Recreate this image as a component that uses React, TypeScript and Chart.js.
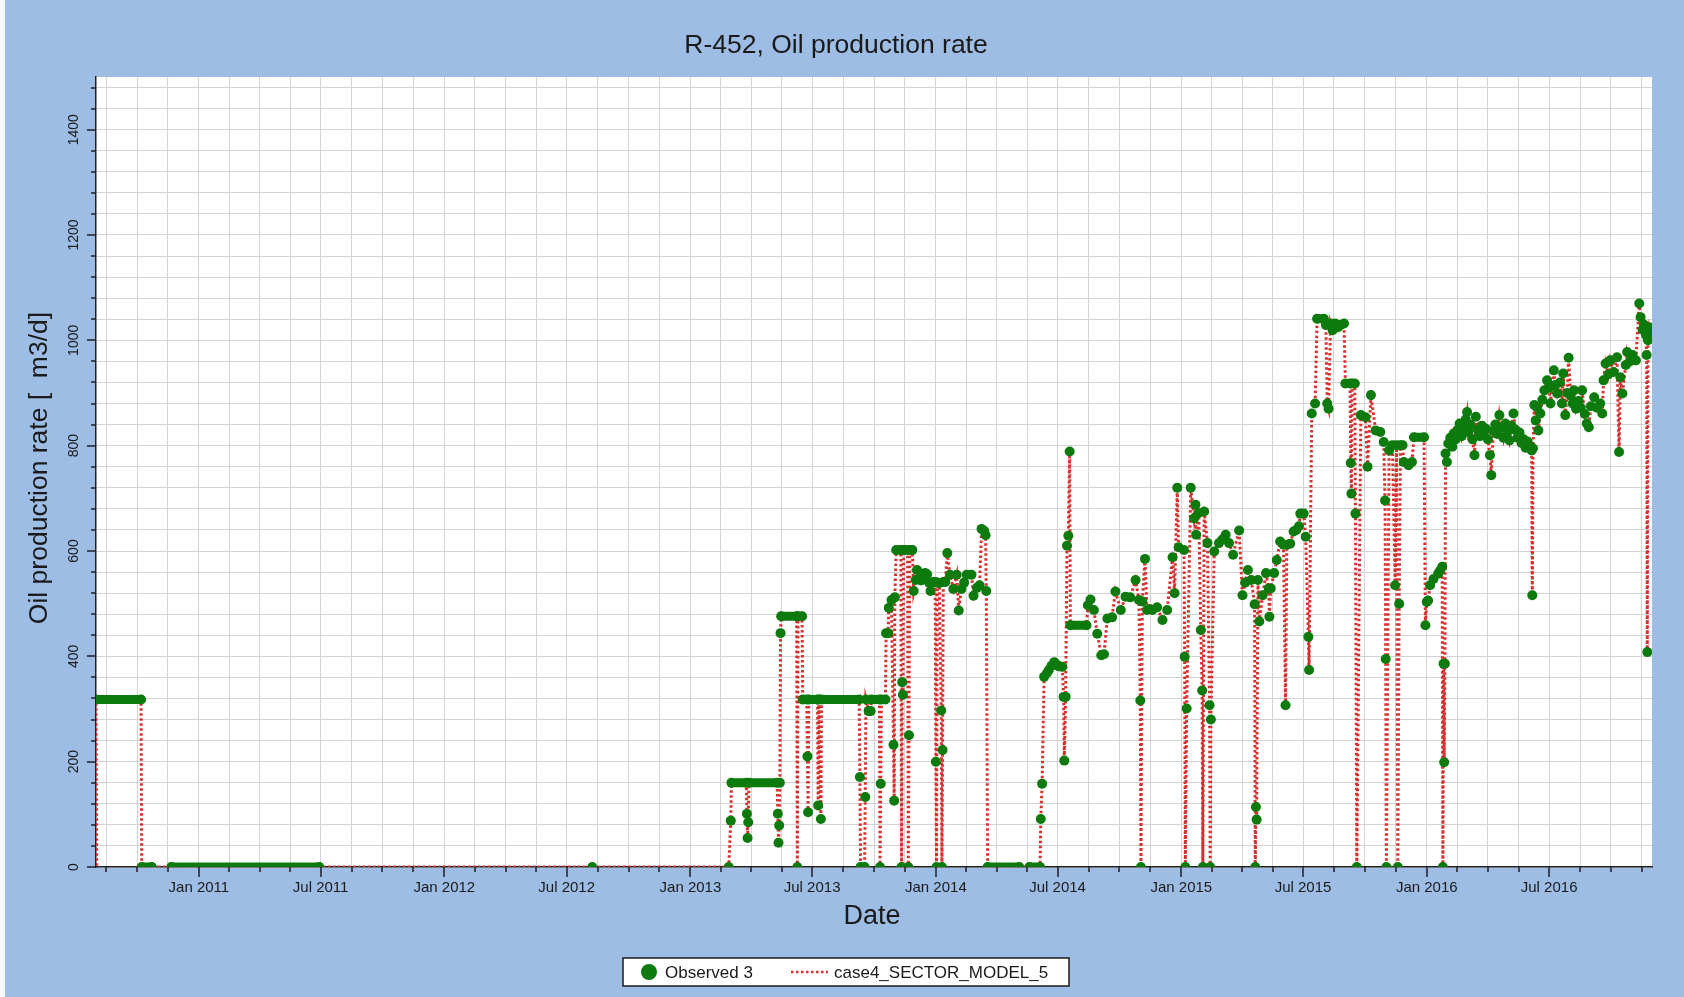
import React, { useEffect, useRef } from 'react';
import { Chart, registerables } from 'chart.js';

Chart.register(...registerables);

type Obs = [string, number | null];

const CHART_TITLE = 'R-452, Oil production rate';
const Y_AXIS_TITLE = 'Oil production rate [  m3/d]';
const X_AXIS_TITLE = 'Date';
const OBSERVED_LABEL = 'Observed 3';
const SIMULATED_LABEL = 'case4_SECTOR_MODEL_5';

const X_START = '2010-08-01';
const X_END = '2016-12-01';
const Y_MAX = 1500;
const Y_GRID_STEP = 40;
const Y_LABEL_STEP = 200;
const HALF_YEAR_NAMES = ['Jan', 'Jul'];

// simulation starts from zero just before the first observation
const simLead: Obs[] = [
  ['2010-07-20', 0],
  ['2010-08-02', 0],
];

const obs2010: Obs[] = [
  ['2010-08-01', 318], ['2010-10-07', 318],
  ['2010-10-08', 0], ['2010-10-23', 0],
  ['2010-11-10', null],
  ['2010-11-21', 0], ['2011-06-29', 0],
  ['2012-01-01', null],
  ['2012-08-08', 0],
  ['2012-12-01', null],
];

const obs2013: Obs[] = [
  ['2013-02-27', 0], ['2013-03-02', 88], ['2013-03-03', 160], ['2013-03-25', 160],
  ['2013-03-26', 101], ['2013-03-27', 55], ['2013-03-28', 85], ['2013-03-29', 160],
  ['2013-05-10', 160], ['2013-05-11', 101], ['2013-05-12', 46], ['2013-05-13', 79],
  ['2013-05-14', 160], ['2013-05-15', 444], ['2013-05-16', 476], ['2013-06-08', 476],
  ['2013-06-09', 0], ['2013-06-10', 476], ['2013-06-16', 476], ['2013-06-17', 318],
  ['2013-06-23', 318], ['2013-06-24', 210], ['2013-06-25', 104], ['2013-06-26', 318],
  ['2013-07-09', 318], ['2013-07-10', 117], ['2013-07-11', 318], ['2013-07-14', 91],
  ['2013-07-15', 318], ['2013-09-09', 318], ['2013-09-10', 171], ['2013-09-11', 0],
  ['2013-09-17', 0], ['2013-09-18', 133], ['2013-09-19', 318], ['2013-09-23', 296],
  ['2013-09-26', 296], ['2013-09-27', 318], ['2013-10-09', 318], ['2013-10-10', 0],
  ['2013-10-11', 158], ['2013-10-12', 318], ['2013-10-18', 318], ['2013-10-19', 444],
  ['2013-10-22', 444], ['2013-10-23', 492], ['2013-10-27', 507], ['2013-10-30', 232],
  ['2013-10-31', 126], ['2013-11-01', 512], ['2013-11-03', 602], ['2013-11-10', 602],
  ['2013-11-11', 0], ['2013-11-12', 351], ['2013-11-13', 327], ['2013-11-14', 602],
  ['2013-11-20', 602], ['2013-11-21', 0], ['2013-11-22', 250], ['2013-11-23', 602],
  ['2013-11-27', 602], ['2013-11-29', 524], ['2013-12-02', 545], ['2013-12-04', 564],
  ['2013-12-07', 548], ['2013-12-10', 544], ['2013-12-13', 553], ['2013-12-16', 558],
  ['2013-12-19', 556], ['2013-12-22', 540], ['2013-12-24', 524], ['2013-12-28', 541],
  ['2013-12-31', 541],
];

const obs2014: Obs[] = [
  ['2014-01-01', 200], ['2014-01-02', 0], ['2014-01-03', 540], ['2014-01-06', 539],
  ['2014-01-09', 297], ['2014-01-10', 0], ['2014-01-11', 222], ['2014-01-12', 541],
  ['2014-01-15', 541], ['2014-01-18', 596], ['2014-01-22', 555], ['2014-01-27', 528],
  ['2014-02-01', 555], ['2014-02-04', 487], ['2014-02-08', 528], ['2014-02-12', 540],
  ['2014-02-16', 555], ['2014-02-23', 555], ['2014-02-26', 515], ['2014-03-03', 530],
  ['2014-03-07', 535], ['2014-03-10', 642], ['2014-03-14', 638], ['2014-03-16', 630],
  ['2014-03-17', 524], ['2014-03-19', 0], ['2014-05-05', 0],
  ['2014-05-12', null],
  ['2014-05-20', 0], ['2014-06-05', 0], ['2014-06-06', 91], ['2014-06-08', 158],
  ['2014-06-11', 361], ['2014-06-15', 368], ['2014-06-18', 374], ['2014-06-22', 382],
  ['2014-06-26', 389], ['2014-06-30', 384], ['2014-07-03', 381], ['2014-07-08', 380],
  ['2014-07-10', 323], ['2014-07-11', 202], ['2014-07-13', 323], ['2014-07-15', 610],
  ['2014-07-17', 629], ['2014-07-19', 789], ['2014-07-20', 459], ['2014-08-13', 459],
  ['2014-08-15', 497], ['2014-08-19', 508], ['2014-08-24', 488], ['2014-08-29', 443],
  ['2014-09-04', 402], ['2014-09-08', 404], ['2014-09-13', 472], ['2014-09-20', 474],
  ['2014-09-25', 523], ['2014-10-03', 488], ['2014-10-10', 513], ['2014-10-17', 512],
  ['2014-10-25', 545], ['2014-10-30', 507], ['2014-11-01', 316], ['2014-11-02', 0],
  ['2014-11-04', 504], ['2014-11-08', 585], ['2014-11-11', 488], ['2014-11-15', 490],
  ['2014-11-19', 488], ['2014-11-26', 493], ['2014-12-04', 469], ['2014-12-11', 488],
  ['2014-12-19', 588], ['2014-12-22', 520], ['2014-12-26', 720], ['2014-12-28', 607],
];

const obs2015: Obs[] = [
  ['2015-01-05', 602], ['2015-01-06', 399], ['2015-01-07', 0], ['2015-01-09', 301],
  ['2015-01-15', 720], ['2015-01-20', 662], ['2015-01-22', 688], ['2015-01-23', 631],
  ['2015-01-27', 672], ['2015-01-30', 450], ['2015-02-01', 335], ['2015-02-02', 0],
  ['2015-02-04', 675], ['2015-02-09', 615], ['2015-02-12', 307], ['2015-02-13', 0],
  ['2015-02-14', 280], ['2015-02-19', 599], ['2015-02-26', 615], ['2015-03-03', 622],
  ['2015-03-08', 631], ['2015-03-13', 615], ['2015-03-19', 593], ['2015-03-28', 639],
  ['2015-04-02', 516], ['2015-04-06', 540], ['2015-04-10', 564], ['2015-04-15', 545],
  ['2015-04-20', 499], ['2015-04-21', 0], ['2015-04-22', 114], ['2015-04-23', 90],
  ['2015-04-25', 545], ['2015-04-27', 466], ['2015-05-02', 516], ['2015-05-07', 558],
  ['2015-05-11', 529], ['2015-05-12', 475], ['2015-05-14', 529], ['2015-05-19', 558],
  ['2015-05-23', 583], ['2015-05-28', 618], ['2015-06-02', 612], ['2015-06-05', 307],
  ['2015-06-07', 612], ['2015-06-12', 614], ['2015-06-17', 637], ['2015-06-21', 640],
  ['2015-06-25', 647], ['2015-06-27', 671], ['2015-07-02', 671], ['2015-07-05', 627],
  ['2015-07-09', 437], ['2015-07-10', 374], ['2015-07-14', 861], ['2015-07-19', 880],
  ['2015-07-22', 1041], ['2015-08-01', 1041], ['2015-08-04', 1029], ['2015-08-06', 880],
  ['2015-08-08', 870], ['2015-08-11', 1032], ['2015-08-14', 1019], ['2015-08-18', 1032],
  ['2015-08-22', 1025], ['2015-08-26', 1029], ['2015-08-31', 1032], ['2015-09-02', 918],
  ['2015-09-09', 918], ['2015-09-10', 767], ['2015-09-11', 709], ['2015-09-12', 918],
  ['2015-09-16', 918], ['2015-09-17', 671], ['2015-09-19', 0], ['2015-09-25', 858],
  ['2015-10-02', 854], ['2015-10-05', 760], ['2015-10-10', 896], ['2015-10-17', 829],
  ['2015-10-24', 826], ['2015-10-29', 807], ['2015-10-31', 696], ['2015-11-01', 395],
  ['2015-11-02', 0], ['2015-11-06', 791], ['2015-11-11', 801], ['2015-11-15', 535],
  ['2015-11-17', 801], ['2015-11-19', 0], ['2015-11-21', 500], ['2015-11-23', 801],
  ['2015-11-26', 801], ['2015-11-28', 769], ['2015-12-05', 763], ['2015-12-10', 769],
  ['2015-12-13', 816], ['2015-12-28', 816], ['2015-12-30', 459],
];

const obs2016: Obs[] = [
  ['2016-01-01', 503], ['2016-01-03', 506], ['2016-01-06', 535], ['2016-01-11', 547],
  ['2016-01-18', 557], ['2016-01-21', 563], ['2016-01-24', 570], ['2016-01-25', 0],
  ['2016-01-26', 386], ['2016-01-27', 199], ['2016-01-28', 386], ['2016-01-29', 785],
  ['2016-01-31', 769], ['2016-02-02', 804], ['2016-02-05', 815], ['2016-02-08', 798],
  ['2016-02-10', 823], ['2016-02-13', 812], ['2016-02-16', 830], ['2016-02-19', 842],
  ['2016-02-22', 818], ['2016-02-25', 835], ['2016-02-28', 850], ['2016-03-01', 864],
  ['2016-03-03', 826], ['2016-03-06', 840], ['2016-03-09', 812], ['2016-03-12', 782],
  ['2016-03-14', 855], ['2016-03-17', 830], ['2016-03-20', 818], ['2016-03-23', 838],
  ['2016-03-26', 820], ['2016-03-29', 832], ['2016-04-01', 812], ['2016-04-04', 782],
  ['2016-04-06', 744], ['2016-04-09', 828], ['2016-04-12', 840], ['2016-04-15', 822],
  ['2016-04-18', 858], ['2016-04-21', 835], ['2016-04-24', 815], ['2016-04-27', 842],
  ['2016-04-30', 826], ['2016-05-03', 810], ['2016-05-06', 838], ['2016-05-09', 861],
  ['2016-05-12', 830], ['2016-05-15', 815], ['2016-05-18', 825], ['2016-05-21', 805],
  ['2016-05-24', 812], ['2016-05-27', 796], ['2016-05-30', 808], ['2016-06-02', 800],
  ['2016-06-05', 791], ['2016-06-06', 516], ['2016-06-07', 795], ['2016-06-09', 877],
  ['2016-06-11', 848], ['2016-06-13', 873], ['2016-06-15', 829], ['2016-06-18', 861],
  ['2016-06-21', 887], ['2016-06-24', 905], ['2016-06-28', 924], ['2016-07-01', 910],
  ['2016-07-03', 880], ['2016-07-08', 943], ['2016-07-10', 915], ['2016-07-13', 899],
  ['2016-07-17', 920], ['2016-07-20', 880], ['2016-07-22', 937], ['2016-07-25', 858],
  ['2016-07-28', 900], ['2016-07-30', 967], ['2016-08-02', 895], ['2016-08-05', 880],
  ['2016-08-07', 905], ['2016-08-10', 870], ['2016-08-14', 885], ['2016-08-17', 872],
  ['2016-08-19', 905], ['2016-08-23', 860], ['2016-08-26', 842], ['2016-08-29', 835],
  ['2016-09-01', 875], ['2016-09-06', 892], ['2016-09-10', 872], ['2016-09-15', 880],
  ['2016-09-18', 861], ['2016-09-20', 924], ['2016-09-23', 956], ['2016-09-27', 935],
  ['2016-09-30', 962], ['2016-10-05', 940], ['2016-10-10', 968], ['2016-10-13', 788],
  ['2016-10-15', 930], ['2016-10-18', 899], ['2016-10-23', 953], ['2016-10-25', 978],
  ['2016-10-29', 960], ['2016-11-02', 972], ['2016-11-07', 962], ['2016-11-12', 1070],
  ['2016-11-14', 1044], ['2016-11-17', 1020], ['2016-11-19', 1030], ['2016-11-22', 1010],
  ['2016-11-23', 972], ['2016-11-24', 408], ['2016-11-25', 1000], ['2016-11-27', 1025],
  ['2016-11-29', 1015], ['2016-12-01', 1020],
];

const BG = '#9dbde5';
const GREEN = '#0d7a0d';
const RED = '#d8302e';
const GRID = '#d3d3d3';
const AXIS = '#1c1f2a';
const TEXT = '#1a1a1a';
const FONT = '"Liberation Sans", Arial, sans-serif';

const ms = (s: string) => Date.parse(s + 'T00:00:00Z');
const toPoints = (rows: Obs[]) => rows.map(([d, v]) => ({ x: ms(d), y: v }));

const observedPoints = toPoints([...obs2010, ...obs2013, ...obs2014, ...obs2015, ...obs2016]);
const simulatedPoints = [...toPoints(simLead), ...observedPoints.filter((p) => p.y !== null)];

const X_MIN = ms(X_START);
const X_MAX = ms(X_END);

function xTickValues(): number[] {
  const out: number[] = [];
  for (let y = 2010; y <= 2016; y++) {
    for (const h of [0, 6]) {
      const a = Date.UTC(y, h, 1);
      const b = h === 0 ? Date.UTC(y, 6, 1) : Date.UTC(y + 1, 0, 1);
      for (let k = 0; k < 4; k++) {
        const v = a + (k * (b - a)) / 4;
        if (v >= X_MIN && v <= X_MAX) out.push(v);
      }
    }
  }
  return out;
}

function xLabel(v: number): string {
  const d = new Date(v);
  const m = d.getUTCMonth();
  if (d.getUTCDate() === 1 && d.getUTCHours() === 0 && (m === 0 || m === 6)) {
    return `${HALF_YEAR_NAMES[m === 0 ? 0 : 1]} ${d.getUTCFullYear()}`;
  }
  return '';
}

const decor = {
  id: 'decor',
  beforeDraw(chart: any) {
    const { ctx, chartArea: a, width, height } = chart;
    ctx.save();
    ctx.fillStyle = BG;
    ctx.fillRect(0, 0, width, height);
    ctx.fillStyle = '#f4f7fb';
    ctx.fillRect(0, 0, 5, height);
    ctx.fillStyle = '#ffffff';
    ctx.fillRect(a.left, a.top, a.right - a.left, a.bottom - a.top);
    ctx.restore();
  },
  afterDraw(chart: any) {
    const { ctx, chartArea: a } = chart;
    const xs = chart.scales.x;
    const ys = chart.scales.y;
    ctx.save();
    // tick marks
    ctx.strokeStyle = AXIS;
    ctx.lineWidth = 1.5;
    ctx.beginPath();
    xs.ticks.forEach((t: any) => {
      const px = Math.round(xs.getPixelForValue(t.value));
      const len = t.label ? 10 : 5;
      ctx.moveTo(px, a.bottom);
      ctx.lineTo(px, a.bottom + len);
    });
    ys.ticks.forEach((t: any) => {
      const py = Math.round(ys.getPixelForValue(t.value));
      const len = t.value % Y_LABEL_STEP === 0 ? 9 : 5;
      ctx.moveTo(a.left - len, py);
      ctx.lineTo(a.left, py);
    });
    ctx.stroke();

    // rotated y tick labels
    ctx.fillStyle = TEXT;
    ctx.font = `14px ${FONT}`;
    ctx.textAlign = 'center';
    ctx.textBaseline = 'middle';
    ys.ticks.forEach((t: any) => {
      if (t.value % Y_LABEL_STEP !== 0) return;
      const py = ys.getPixelForValue(t.value);
      ctx.save();
      ctx.translate(a.left - 22, py);
      ctx.rotate(-Math.PI / 2);
      ctx.fillText(String(t.value), 0, 0);
      ctx.restore();
    });

    // title
    ctx.font = `26.5px ${FONT}`;
    ctx.fillText(CHART_TITLE, 836, 46);

    // axis titles
    ctx.font = `27px ${FONT}`;
    ctx.fillText(X_AXIS_TITLE, (a.left + a.right) / 2 - 2, 917);
    ctx.save();
    ctx.translate(40, 468);
    ctx.rotate(-Math.PI / 2);
    ctx.font = `26.5px ${FONT}`;
    ctx.fillText(Y_AXIS_TITLE, 0, 0);
    ctx.restore();

    // legend
    const bx = 623, by = 958, bw = 446, bh = 28;
    ctx.fillStyle = '#ffffff';
    ctx.fillRect(bx, by, bw, bh);
    ctx.strokeStyle = '#1a1a1a';
    ctx.lineWidth = 1.5;
    ctx.strokeRect(bx, by, bw, bh);
    const cy = by + bh / 2;
    ctx.fillStyle = GREEN;
    ctx.beginPath();
    ctx.arc(649, cy, 8, 0, Math.PI * 2);
    ctx.fill();
    ctx.fillStyle = TEXT;
    ctx.font = `17px ${FONT}`;
    ctx.textAlign = 'left';
    ctx.fillText(OBSERVED_LABEL, 665, cy + 1);
    ctx.strokeStyle = RED;
    ctx.lineWidth = 2.5;
    ctx.setLineDash([2.5, 2.5]);
    ctx.beginPath();
    ctx.moveTo(791, cy);
    ctx.lineTo(828, cy);
    ctx.stroke();
    ctx.setLineDash([]);
    ctx.fillText(SIMULATED_LABEL, 834, cy + 1);
    ctx.restore();
  },
};

export default function App() {
  const ref = useRef<HTMLCanvasElement>(null);
  useEffect(() => {
    const canvas = ref.current;
    if (!canvas) return;
    const chart = new Chart(canvas, {
      type: 'line',
      data: {
        datasets: [
          {
            label: OBSERVED_LABEL,
            data: observedPoints as any,
            order: 0,
            borderColor: GREEN,
            borderWidth: 9,
            borderCapStyle: 'round',
            spanGaps: false,
            segment: {
              borderColor: (c: any) => (c.p0.parsed.y === c.p1.parsed.y ? GREEN : 'rgba(0,0,0,0)'),
            },
            pointRadius: 5,
            pointBorderWidth: 0,
            pointBackgroundColor: GREEN,
            pointHoverRadius: 5,
            clip: 0,
          } as any,
          {
            label: SIMULATED_LABEL,
            data: simulatedPoints as any,
            order: 1,
            borderColor: RED,
            borderWidth: 3,
            borderDash: [2.5, 2.5],
            pointRadius: 0,
            spanGaps: true,
            tension: 0,
            clip: 0,
          } as any,
        ],
      },
      options: {
        animation: false,
        responsive: false,
        devicePixelRatio: 1,
        events: [],
        layout: { padding: { left: 0, top: 77, right: 32, bottom: 100 } },
        plugins: {
          legend: { display: false },
          title: { display: false },
          tooltip: { enabled: false },
        },
        scales: {
          x: {
            type: 'linear',
            min: X_MIN,
            max: X_MAX,
            afterBuildTicks: (s: any) => {
              s.ticks = xTickValues().map((v) => ({ value: v }));
            },
            afterFit: (s: any) => {
              s.height = 30;
            },
            grid: { color: GRID, lineWidth: 1, drawTicks: false },
            border: { display: true, color: AXIS, width: 1.5 },
            ticks: {
              autoSkip: false,
              maxRotation: 0,
              minRotation: 0,
              padding: 12,
              color: TEXT,
              font: { family: FONT, size: 15 },
              callback: (v: any) => xLabel(Number(v)),
            },
          },
          y: {
            type: 'linear',
            min: 0,
            max: Y_MAX,
            afterBuildTicks: (s: any) => {
              const t: any[] = [];
              for (let v = 0; v < Y_MAX; v += Y_GRID_STEP) t.push({ value: v });
              s.ticks = t;
            },
            afterFit: (s: any) => {
              s.width = 96;
            },
            grid: { color: GRID, lineWidth: 1, drawTicks: false },
            border: { display: true, color: AXIS, width: 1.5 },
            ticks: { display: false },
          },
        },
      } as any,
      plugins: [decor as any],
    });
    return () => chart.destroy();
  }, []);
  return (
    <div style={{ position: 'absolute', left: 0, top: 0, width: 1684, height: 997, background: BG }}>
      <canvas ref={ref} width={1684} height={997} style={{ display: 'block', width: 1684, height: 997 }} />
    </div>
  );
}
